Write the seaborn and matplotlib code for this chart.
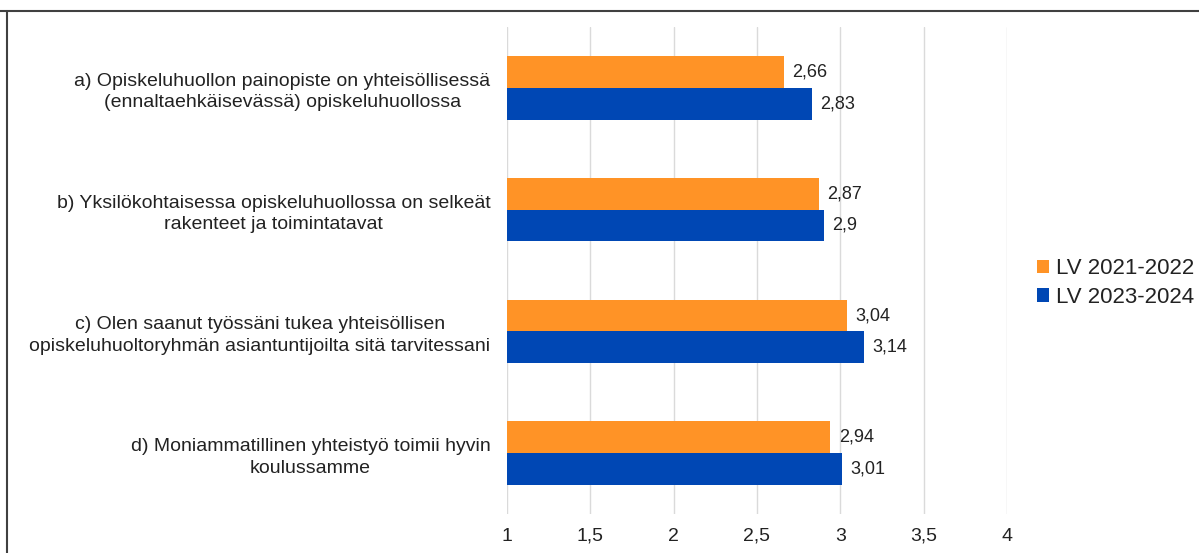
import pandas as pd
import seaborn as sns
from matplotlib import pyplot as plt
from matplotlib.lines import Line2D
from matplotlib.patches import Patch

# statements (tick labels)
statements = [
    'a) Opiskeluhuollon painopiste on yhteisöllisessä\n(ennaltaehkäisevässä) opiskeluhuollossa',
    'b) Yksilökohtaisessa opiskeluhuollossa on selkeät\nrakenteet ja toimintatavat',
    'c) Olen saanut työssäni tukea yhteisöllisen\nopiskeluhuoltoryhmän asiantuntijoilta sitä tarvitessani',
    'd) Moniammatillinen yhteistyö toimii hyvin\nkoulussamme',
]
series = ['LV 2021-2022', 'LV 2023-2024']
vals_2122 = [2.66, 2.87, 3.04, 2.94]
vals_2324 = [2.83, 2.9, 3.14, 3.01]
colors = ['#FF9326', '#0047B4']
xticks = [1, 1.5, 2, 2.5, 3, 3.5, 4]

df = pd.DataFrame({
    'statement': statements * 2,
    'period': [series[0]] * 4 + [series[1]] * 4,
    'value': vals_2122 + vals_2324,
})

sns.set_theme(style='white')
plt.rcParams['font.family'] = ['Liberation Sans', 'DejaVu Sans']

fig = plt.figure(figsize=(11.99, 5.53), dpi=100)
ax = fig.add_axes([507 / 1199, 1 - 514 / 553, 500 / 1199, 487 / 553])

sns.barplot(data=df, y='statement', x='value', hue='period', order=statements,
            hue_order=series, palette=colors, orient='h', width=0.52,
            linewidth=0, saturation=1, legend=False, ax=ax)

for cont in ax.containers:
    ax.bar_label(cont, labels=[f'{b.get_width():g}'.replace('.', ',') for b in cont],
                 padding=6, fontsize=13, color='#222222')

ax.set_xlim(1, 4)
ax.set_xticks(xticks)
ax.set_xticklabels([f'{t:g}'.replace('.', ',') for t in xticks], fontsize=14, color='#222222')
ax.tick_params(axis='x', length=0, pad=10)
ax.tick_params(axis='y', length=0, pad=12, labelsize=14, labelcolor='#222222')
for lbl in ax.get_yticklabels():
    lbl.set_multialignment('center')
    lbl.set_linespacing(1.35)
ax.set_xlabel('')
ax.set_ylabel('')
ax.grid(axis='x', color='#DADADA', linewidth=1)
ax.set_axisbelow(True)
sns.despine(ax=ax, left=True, bottom=True)

handles = [Patch(facecolor=c, edgecolor='none') for c in colors]
fig.legend(handles, series, loc='center left', bbox_to_anchor=(1017 / 1199, 1 - 283 / 553),
           frameon=False, fontsize=16, handlelength=0.55, handleheight=0.55,
           handletextpad=0.3, labelspacing=0.35, labelcolor='#222222')

# outer frame (top and left edges visible)
fig.add_artist(Line2D([0, 1], [1 - 11 / 553] * 2, color='#404040', lw=1.5, transform=fig.transFigure))
fig.add_artist(Line2D([7 / 1199] * 2, [0, 1 - 11 / 553], color='#404040', lw=1.5, transform=fig.transFigure))

fig.savefig('out.png', dpi=100)
